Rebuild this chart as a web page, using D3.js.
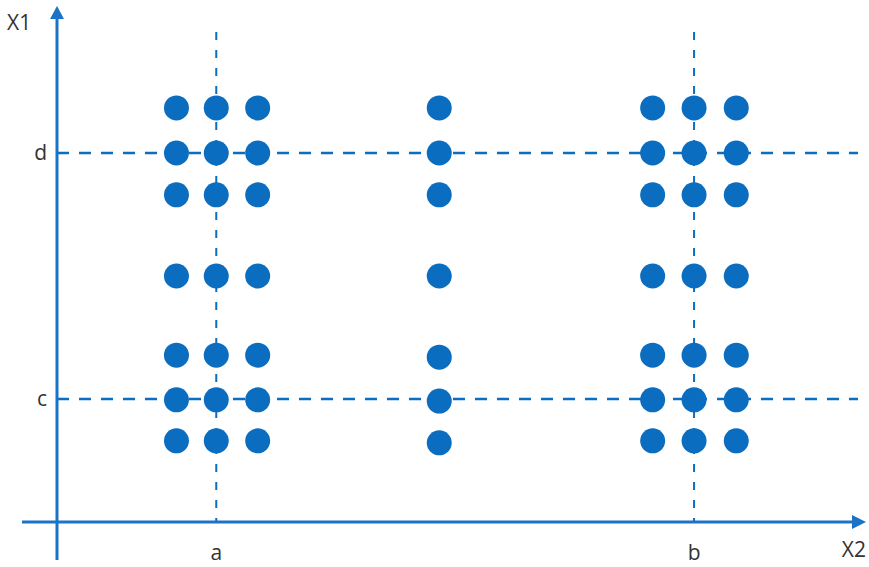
<!DOCTYPE html>
<html>
<head>
<meta charset="utf-8">
<script src="https://cdn.jsdelivr.net/npm/d3@7"></script>
<style>
  body { margin: 0; background: #fff; }
  text { font-family: "Open Sans", "Noto Sans", sans-serif; fill: #333; }
</style>
</head>
<body>
<div class="chart_frame"></div>
<script>
// grid of points (x2 across, x1 up)
var colsLeft = [1.5, 2.0, 2.52],
    colsRight = [7.48, 8.0, 8.53],
    colMiddle = 4.8;
var rowsSide = [10.1, 9.0, 7.98, 6.0, 4.07, 2.98, 1.98],
    rowsMiddle = [10.1, 9.0, 7.98, 6.0, 4.02, 2.95, 1.93];

// reference lines and their labels
var xRefs = [{ v: 2.0, label: 'a' }, { v: 8.0, label: 'b' }];
var yRefs = [{ v: 9.0, label: 'd' }, { v: 3.0, label: 'c' }];
var axisNames = { x: 'X2', y: 'X1' };

var width = 869, height = 567;
var blue = '#0b6dbf', axisBlue = '#1a73c6';

var x = d3.scaleLinear().domain([0, 10]).range([57, 694 + (694 - 216) / 6 * 2]);
var y = d3.scaleLinear().domain([0, 10]).range([522, 112]);

var points = [];
colsLeft.concat(colsRight).forEach(function(c) {
    rowsSide.forEach(function(r) { points.push({ x: c, y: r }); });
});
rowsMiddle.forEach(function(r) { points.push({ x: colMiddle, y: r }); });

var svg = d3.select('.chart_frame').append('svg')
    .attr('width', width)
    .attr('height', height);

// dashed guides
svg.append('g').selectAll('line').data(xRefs).enter().append('line')
    .attr('x1', function(d) { return x(d.v); })
    .attr('x2', function(d) { return x(d.v); })
    .attr('y1', 32).attr('y2', y(0))
    .attr('stroke', blue).attr('stroke-width', 2)
    .attr('stroke-dasharray', '8,10');

svg.append('g').selectAll('line').data(yRefs).enter().append('line')
    .attr('x1', x(0)).attr('x2', 858)
    .attr('y1', function(d) { return y(d.v); })
    .attr('y2', function(d) { return y(d.v); })
    .attr('stroke', blue).attr('stroke-width', 2.5)
    .attr('stroke-dasharray', '12,10');

// dots
svg.append('g').selectAll('circle').data(points).enter().append('circle')
    .attr('cx', function(d) { return x(d.x); })
    .attr('cy', function(d) { return y(d.y); })
    .attr('r', 12.5)
    .attr('fill', blue);

// axes with arrow heads
var axes = svg.append('g').attr('class', 'axes');
axes.append('line')
    .attr('x1', 22).attr('x2', 856)
    .attr('y1', y(0)).attr('y2', y(0))
    .attr('stroke', axisBlue).attr('stroke-width', 3);
axes.append('path')
    .attr('d', 'M866,' + y(0) + 'L852,' + (y(0) - 7) + 'L852,' + (y(0) + 7) + 'Z')
    .attr('fill', axisBlue);
axes.append('line')
    .attr('x1', x(0)).attr('x2', x(0))
    .attr('y1', 560).attr('y2', 16)
    .attr('stroke', axisBlue).attr('stroke-width', 3);
axes.append('path')
    .attr('d', 'M' + x(0) + ',6L' + (x(0) - 7) + ',19L' + (x(0) + 7) + ',19Z')
    .attr('fill', axisBlue);

// labels
svg.selectAll('.xlab').data(xRefs).enter().append('text')
    .attr('class', 'xlab')
    .attr('x', function(d) { return x(d.v); })
    .attr('y', 560)
    .attr('text-anchor', 'middle')
    .attr('font-size', 21)
    .text(function(d) { return d.label; });

svg.selectAll('.ylab').data(yRefs).enter().append('text')
    .attr('class', 'ylab')
    .attr('x', 47)
    .attr('y', function(d) { return y(d.v) + 7; })
    .attr('text-anchor', 'end')
    .attr('font-size', 21)
    .text(function(d) { return d.label; });

svg.append('text').attr('x', 7).attr('y', 30)
    .attr('font-size', 21).text(axisNames.y);
svg.append('text').attr('x', 866).attr('y', 557)
    .attr('text-anchor', 'end')
    .attr('font-size', 21).text(axisNames.x);
</script>
</body>
</html>
